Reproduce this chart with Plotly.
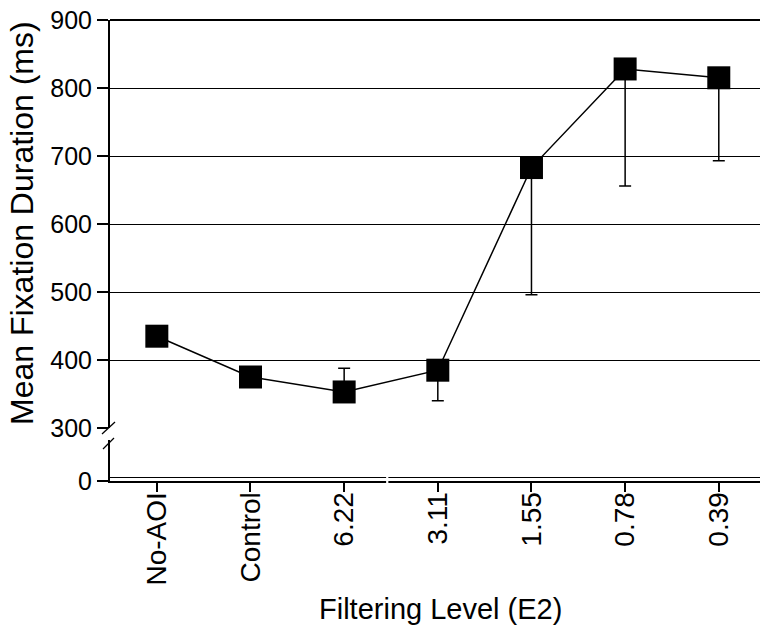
import plotly.graph_objects as go

categories = ["No-AOI", "Control", "6.22", "3.11", "1.55", "0.78", "0.39"]
mean_ms = [435, 375, 353, 385, 683, 828, 815]
err_plus = [0, 0, 35, 0, 0, 0, 0]
err_minus = [0, 0, 0, 45, 187, 172, 122]
upper_ticks = [300, 400, 500, 600, 700, 800, 900]
lower_ticks = [0]

W, H = 760, 634
# plot area in page pixels
PL, PR, PT, PB = 110, 760, 20, 481
L, R, T, B = PL, W - PR, PT, H - PB
plot_w = PR - PL
plot_h = PB - PT


def py(p):
    return (PB - p) / plot_h


def pxx(p):
    return (p - PL) / plot_w


FONT = "Liberation Sans, Arial, Helvetica, sans-serif"

fig = go.Figure()
fig.add_trace(go.Scatter(
    x=list(range(len(categories))), y=mean_ms, mode="lines+markers",
    line=dict(color="black", width=1.5),
    marker=dict(symbol="square", size=23, color="black"),
    error_y=dict(type="data", symmetric=False, array=err_plus,
                 arrayminus=err_minus, color="black", thickness=1.5, width=6),
    xaxis="x", yaxis="y", showlegend=False, cliponaxis=False,
))
# empty trace so the lower (broken) y-axis panel is drawn
fig.add_trace(go.Scatter(x=[], y=[], xaxis="x", yaxis="y2", showlegend=False,
                         hoverinfo="skip", mode="markers"))

x_lo, x_hi = -0.5, 6.44
break_x = 2.46

shapes = []
shapes.append(dict(type="line", xref="paper", yref="paper", x0=0, x1=1, y0=1, y1=1,
                   line=dict(color="black", width=2)))
shapes.append(dict(type="line", xref="paper", yref="paper", x0=0, x1=1,
                   y0=py(477.5), y1=py(477.5), line=dict(color="black", width=1)))
shapes.append(dict(type="rect", xref="x", yref="paper", x0=break_x - 0.012, x1=break_x + 0.012,
                   y0=py(484), y1=py(475), fillcolor="white", line=dict(width=0)))
shapes.append(dict(type="line", xref="paper", yref="paper", x0=pxx(102), x1=pxx(115),
                   y0=py(434), y1=py(422), line=dict(color="black", width=1.3)))
shapes.append(dict(type="line", xref="paper", yref="paper", x0=pxx(103), x1=pxx(114),
                   y0=py(449), y1=py(438), line=dict(color="black", width=1.3)))

annotations = [
    dict(text="Filtering Level (E2)", xref="paper", yref="paper", x=pxx(440), y=py(609),
         xanchor="center", yanchor="middle", showarrow=False,
         font=dict(family=FONT, size=29, color="black")),
    dict(text="Mean Fixation Duration (ms)", xref="paper", yref="paper", x=pxx(22), y=py(223),
         xanchor="center", yanchor="middle", showarrow=False, textangle=-90,
         font=dict(family=FONT, size=32, color="black")),
]

fig.update_layout(
    width=W, height=H,
    margin=dict(l=L, r=R, t=T, b=B, pad=0, autoexpand=False),
    paper_bgcolor="white", plot_bgcolor="white",
    font=dict(family=FONT, color="black"),
    xaxis=dict(range=[x_lo, x_hi], tickmode="array", tickvals=list(range(len(categories))),
               ticktext=categories, tickangle=-90, ticks="outside", ticklen=9, tickwidth=1.5,
               tickcolor="black", showgrid=False, zeroline=False, showline=True,
               linecolor="black", linewidth=2, anchor="y2", automargin=False,
               ticklabelstandoff=-11, ticklabeloverflow="allow",
               tickfont=dict(family=FONT, size=28, color="black")),
    yaxis=dict(domain=[py(428), 1], range=[300, 900], tickmode="array", tickvals=upper_ticks,
               ticks="outside", ticklen=11, tickwidth=1.5, tickcolor="black",
               showgrid=True, gridcolor="black", gridwidth=1, zeroline=False,
               showline=True, linecolor="black", linewidth=2, anchor="x", automargin=False,
               ticklabeloverflow="allow",
               tickfont=dict(family=FONT, size=25, color="black")),
    yaxis2=dict(domain=[0, py(440)], range=[0, 60], tickmode="array", tickvals=lower_ticks,
                ticks="outside", ticklen=11, tickwidth=1.5, tickcolor="black",
                showgrid=False, zeroline=False, showline=True, linecolor="black",
                linewidth=2, anchor="x", automargin=False, ticklabeloverflow="allow",
                tickfont=dict(family=FONT, size=25, color="black")),
    shapes=shapes,
    annotations=annotations,
)

fig.write_html("out.html", config={"displayModeBar": False},
               post_script="document.body.style.margin='0';")
